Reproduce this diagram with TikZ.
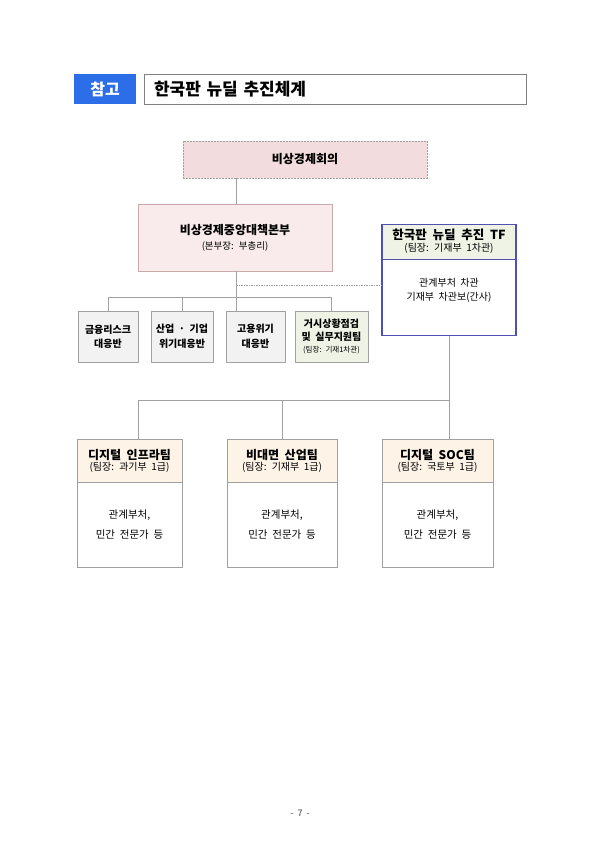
\documentclass[tikz,border=0pt]{standalone}
\usepackage{fontspec}
\setmainfont{Noto Sans CJK KR}[WordSpace=2]

\definecolor{tagblue}{RGB}{43,110,232}
\definecolor{meetpink}{RGB}{242,220,221}
\definecolor{hqpink}{RGB}{249,235,235}
\definecolor{hqline}{RGB}{200,170,170}
\definecolor{tfblue}{RGB}{80,80,176}
\definecolor{tfgreen}{RGB}{238,243,229}
\definecolor{bangray}{RGB}{242,242,242}
\definecolor{teambeige}{RGB}{253,243,231}
\definecolor{linegray}{RGB}{160,160,160}

\newcommand{\subfont}{\fontsize{10}{12}\selectfont}

\begin{document}
\begin{tikzpicture}[x=1pt, y=-1pt,
    box/.style={draw=linegray, line width=0.7pt, align=center, inner sep=0pt},
    ban/.style={box, fill=bangray, minimum height=51pt, font=\fontsize{10}{14.5}\selectfont\bfseries},
    teamhead/.style={box, fill=teambeige, minimum height=43pt},
    teambox/.style={box, minimum height=128pt},
    body/.style={align=center, font=\fontsize{10.5}{20.5}\selectfont},
    conn/.style={draw=linegray, line width=0.7pt}]

    % 배경
    \fill[white] (0,0) rectangle (600,847);
    \useasboundingbox (0,0) rectangle (600,847);

    % 제목
    \node[fill=tagblue, text=white, minimum width=62pt, minimum height=30pt, inner sep=0pt,
        font=\fontsize{16}{18}\selectfont\bfseries] (tag) at (105,89) {참고};
    \node[box, draw=gray, minimum width=382pt, minimum height=30pt, text width=362pt, align=left,
        font=\fontsize{17}{19}\selectfont\bfseries] (title) at (335,89) {한국판 뉴딜 추진체계};

    % 비상경제회의
    \node[box, fill=meetpink, dash pattern=on 2pt off 1pt, minimum width=244pt, minimum height=37pt,
        font=\fontsize{12}{14}\selectfont\bfseries] (meeting) at (305,159.5) {비상경제회의};

    % 중앙대책본부
    \node[box, draw=hqline, fill=hqpink, minimum width=194pt, minimum height=67pt] (hq) at (235,237.5)
        {{\fontsize{12}{14}\selectfont\bfseries 비상경제중앙대책본부}\\[3pt]
         {\fontsize{9.5}{11}\selectfont (본부장: 부총리)}};

    % 추진 TF
    \node[box, draw=tfblue, fill=tfgreen, line width=0.5pt, minimum width=134pt, minimum height=35pt] (tfhead) at (449,241.5)
        {{\fontsize{12.5}{14}\selectfont\bfseries 한국판 뉴딜 추진 TF}\\[0pt]{\subfont (팀장: 기재부 1차관)}};
    \node[draw=tfblue, line width=1.6pt, minimum width=134pt, minimum height=111pt, inner sep=0pt,
        anchor=north] (tf) at (tfhead.north) {};
    \node[body, font=\fontsize{10}{14}\selectfont] (tfbody) at (449,290.5) {관계부처 차관\\기재부 차관보(간사)};

    % 대응반
    \node[ban, minimum width=60pt] (ban1) at (108,336.5) {금융리스크\\대응반};
    \node[ban, minimum width=62pt] (ban2) at (182,336.5) {산업 · 기업\\위기대응반};
    \node[ban, minimum width=59pt] (ban3) at (255.5,336.5) {고용위기\\대응반};
    \node[ban, fill=tfgreen, minimum width=73pt, font=\fontsize{10}{14}\selectfont\bfseries] (ban4) at (331.5,336.5)
        {거시상황점검\\[-1pt]및 실무지원팀\\[-2pt]{\fontsize{7.5}{9}\selectfont\mdseries (팀장: 기재1차관)}};

    % 추진팀
    \node[teamhead, minimum width=105pt] (team1head) at (129.5,460.5)
        {{\fontsize{12}{14}\selectfont\bfseries 디지털 인프라팀}\\[-1pt]{\subfont (팀장: 과기부 1급)}};
    \node[teambox, minimum width=105pt, anchor=north] (team1) at (team1head.north) {};
    \node[body] (team1body) at (129.5,524.5) {관계부처,\\민간 전문가 등};

    \node[teamhead, minimum width=110pt] (team2head) at (282,460.5)
        {{\fontsize{12}{14}\selectfont\bfseries 비대면 산업팀}\\[-1pt]{\subfont (팀장: 기재부 1급)}};
    \node[teambox, minimum width=110pt, anchor=north] (team2) at (team2head.north) {};
    \node[body] (team2body) at (282,524.5) {관계부처,\\민간 전문가 등};

    \node[teamhead, minimum width=111pt] (team3head) at (437.5,460.5)
        {{\fontsize{12}{14}\selectfont\bfseries 디지털 SOC팀}\\[-1pt]{\subfont (팀장: 국토부 1급)}};
    \node[teambox, minimum width=111pt, anchor=north] (team3) at (team3head.north) {};
    \node[body] (team3body) at (437.5,524.5) {관계부처,\\민간 전문가 등};

    % 연결선
    \coordinate (spine) at (236,0);
    \coordinate (busA) at (0,297);
    \coordinate (dashA) at (0,285);
    \coordinate (busB) at (0,400);
    \draw[conn] (hq.north -| spine) -- (meeting.south -| spine);
    \draw[conn] (hq.south -| spine) -- (ban3.north -| spine);
    \draw[conn] (ban1.north) -- (ban1.north |- busA) -- (ban4.north |- busA) -- (ban4.north);
    \draw[conn] (ban2.north) -- (ban2.north |- busA);
    \draw[conn, dash pattern=on 1.5pt off 1pt, line width=0.5pt] (dashA -| spine) -- (dashA -| tf.west);
    \draw[conn] (tf.south) -- (team3head.north -| tf.south);
    \draw[conn] (tf.south |- busB) -- ([xshift=8.5pt]team1head.north |- busB) -- ([xshift=8.5pt]team1head.north);
    \draw[conn] (team2head.north) -- (team2head.north |- busB);

    % 쪽 번호
    \node[text=darkgray, font=\fontsize{9}{11}\selectfont] (page) at (300,813) {- 7 -};
\end{tikzpicture}
\end{document}
